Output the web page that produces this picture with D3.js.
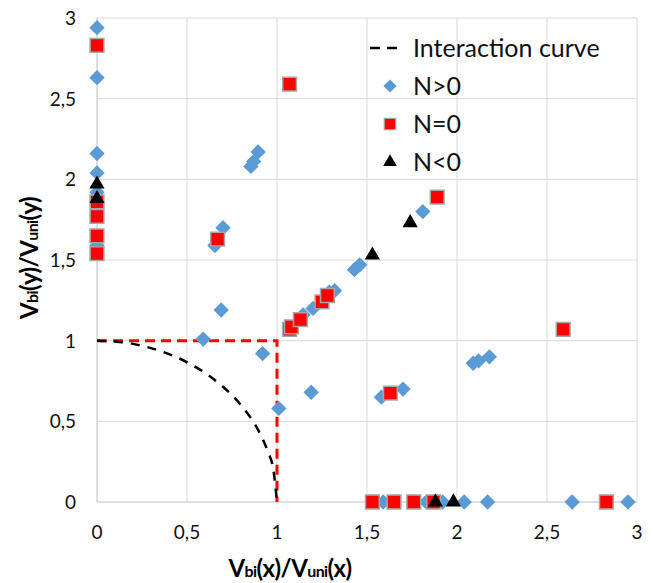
<!DOCTYPE html>
<html>
<head>
<meta charset="utf-8">
<script src="https://cdn.jsdelivr.net/npm/d3@7/dist/d3.min.js"></script>
<style>
  body { margin: 0; background: #fff; }
  text { font-family: Lato, "Open Sans", sans-serif; }
</style>
</head>
<body>
<svg id="chart" width="653" height="583"></svg>
<script>
// values
var xTicks = [0, 0.5, 1, 1.5, 2, 2.5, 3];
var yTicks = [0, 0.5, 1, 1.5, 2, 2.5, 3];

var curveX = [0, 0.1, 0.2, 0.3, 0.4, 0.5, 0.6, 0.7, 0.8, 0.9, 0.95, 0.98, 1];
var curveY = [1, 0.995, 0.98, 0.954, 0.917, 0.866, 0.8, 0.714, 0.6, 0.436, 0.31, 0.2, 0];

var boxX = [0, 1, 1];
var boxY = [1, 1, 0];

var posX = [0, 0, 0, 0, 0, 0, 0, 0.59, 0.69, 0.655, 0.70, 0.855, 0.87, 0.895, 0.92, 1.01, 1.19,
  1.145, 1.2, 1.29, 1.32, 1.43, 1.46, 1.81, 1.58, 1.70, 2.09, 2.12, 2.18,
  1.59, 1.83, 1.92, 2.04, 2.17, 2.64, 2.95];
var posY = [2.94, 2.63, 2.16, 2.04, 1.92, 1.84, 1.59, 1.01, 1.19, 1.59, 1.70, 2.08, 2.11, 2.17, 0.92, 0.58, 0.68,
  1.16, 1.2, 1.30, 1.31, 1.44, 1.47, 1.80, 0.65, 0.70, 0.86, 0.875, 0.90,
  0, 0, 0, 0, 0, 0, 0];

var zeroX = [0, 0, 0, 0, 0, 0.67, 1.07, 1.07, 1.08, 1.13, 1.25, 1.28, 1.89, 1.63, 2.59,
  1.53, 1.65, 1.76, 1.87, 2.83];
var zeroY = [2.83, 1.86, 1.77, 1.65, 1.54, 1.63, 2.59, 1.07, 1.085, 1.13, 1.24, 1.28, 1.89, 0.675, 1.07,
  0, 0, 0, 0, 0];

var negX = [0, 0, 1.53, 1.74, 1.88, 1.98];
var negY = [1.97, 1.88, 1.53, 1.73, 0, 0];

var legendLabels = ["Interaction curve", "N>0", "N=0", "N<0"];

var svg = d3.select("#chart");
var x = d3.scaleLinear().domain([0, 3]).range([97, 637]);
var y = d3.scaleLinear().domain([0, 3]).range([502, 18]);
var fmt = function(d) { return d3.format("")(d).replace(".", ","); };

// grid
svg.append("g").selectAll("line").data(xTicks.slice(1)).enter().append("line")
  .attr("x1", x).attr("x2", x).attr("y1", y(0)).attr("y2", y(3))
  .attr("stroke", "#d9d9d9").attr("stroke-width", 1);
svg.append("g").selectAll("line").data(yTicks.slice(1)).enter().append("line")
  .attr("y1", y).attr("y2", y).attr("x1", x(0)).attr("x2", x(3))
  .attr("stroke", "#d9d9d9").attr("stroke-width", 1);
svg.append("line").attr("x1", x(0)).attr("x2", x(0)).attr("y1", y(0)).attr("y2", y(3))
  .attr("stroke", "#bfbfbf");
svg.append("line").attr("x1", x(0)).attr("x2", x(3)).attr("y1", y(0)).attr("y2", y(0))
  .attr("stroke", "#bfbfbf");

// tick labels
svg.append("g").selectAll("text").data(xTicks).enter().append("text")
  .attr("x", x).attr("y", 539).attr("text-anchor", "middle")
  .attr("font-size", 19).attr("fill", "#111").text(fmt);
svg.append("g").selectAll("text").data(yTicks).enter().append("text")
  .attr("x", 76).attr("y", function(d) { return y(d) + 7; }).attr("text-anchor", "end")
  .attr("font-size", 19).attr("fill", "#111").text(fmt);

// axis titles
var xt = svg.append("text").attr("x", 290).attr("y", 577).attr("text-anchor", "middle")
  .attr("font-weight", "bold").attr("font-size", 24).attr("letter-spacing", -0.6);
xt.append("tspan").text("V");
xt.append("tspan").attr("font-size", 16).text("bi");
xt.append("tspan").text("(x)/V");
xt.append("tspan").attr("font-size", 16).text("uni");
xt.append("tspan").text("(x)");

var yt = svg.append("text").attr("transform", "translate(38,258) rotate(-90)")
  .attr("text-anchor", "middle").attr("font-weight", "bold").attr("font-size", 24)
  .attr("letter-spacing", -0.6);
yt.append("tspan").text("V");
yt.append("tspan").attr("font-size", 16).text("bi");
yt.append("tspan").text("(y)/V");
yt.append("tspan").attr("font-size", 16).text("uni");
yt.append("tspan").text("(y)");

// lines
var line = d3.line().x(function(d) { return x(d[0]); }).y(function(d) { return y(d[1]); });
svg.append("path").datum(d3.zip(boxX, boxY)).attr("d", line)
  .attr("fill", "none").attr("stroke", "#ff0000").attr("stroke-width", 3)
  .attr("stroke-dasharray", "10,6");
svg.append("path").datum(d3.zip(curveX, curveY)).attr("d", line.curve(d3.curveMonotoneX))
  .attr("fill", "none").attr("stroke", "#000").attr("stroke-width", 2.5)
  .attr("stroke-dasharray", "9,8");

// markers
var diamond = d3.symbol().type(d3.symbolDiamond2).size(150);
var square = d3.symbol().type(d3.symbolSquare).size(190);
var tri = d3.symbol().type(d3.symbolTriangle).size(100);

svg.append("g").selectAll("path").data(d3.zip(posX, posY)).enter().append("path")
  .attr("d", diamond)
  .attr("transform", function(d) { return "translate(" + x(d[0]) + "," + y(d[1]) + ")"; })
  .attr("fill", "#5b9bd5");
svg.append("g").selectAll("path").data(d3.zip(zeroX, zeroY)).enter().append("path")
  .attr("d", square)
  .attr("transform", function(d) { return "translate(" + x(d[0]) + "," + y(d[1]) + ")"; })
  .attr("fill", "#ff0000").attr("stroke", "#a6a6a6").attr("stroke-width", 1.5);
svg.append("g").selectAll("path").data(d3.zip(negX, negY)).enter().append("path")
  .attr("d", tri)
  .attr("transform", function(d) { return "translate(" + x(d[0]) + "," + y(d[1] ) + ")"; })
  .attr("fill", "#000");

// legend
var lg = svg.append("g").attr("transform", "translate(370,0)");
var rowsY = [48, 86, 124, 162];
lg.append("line").attr("x1", 0).attr("x2", 34).attr("y1", rowsY[0]).attr("y2", rowsY[0])
  .attr("stroke", "#000").attr("stroke-width", 2.5).attr("stroke-dasharray", "10,7");
lg.append("path").attr("d", diamond.size(110)).attr("transform", "translate(20," + rowsY[1] + ")")
  .attr("fill", "#5b9bd5");
lg.append("path").attr("d", square.size(130)).attr("transform", "translate(20," + rowsY[2] + ")")
  .attr("fill", "#ff0000").attr("stroke", "#a6a6a6").attr("stroke-width", 1.2);
lg.append("path").attr("d", tri.size(80)).attr("transform", "translate(20," + rowsY[3] + ")")
  .attr("fill", "#000");
lg.selectAll("text.lab").data(legendLabels).enter().append("text")
  .attr("x", 43).attr("y", function(d, i) { return rowsY[i] + 9; })
  .attr("font-size", 25).attr("fill", "#111").text(function(d) { return d; });
</script>
</body>
</html>
